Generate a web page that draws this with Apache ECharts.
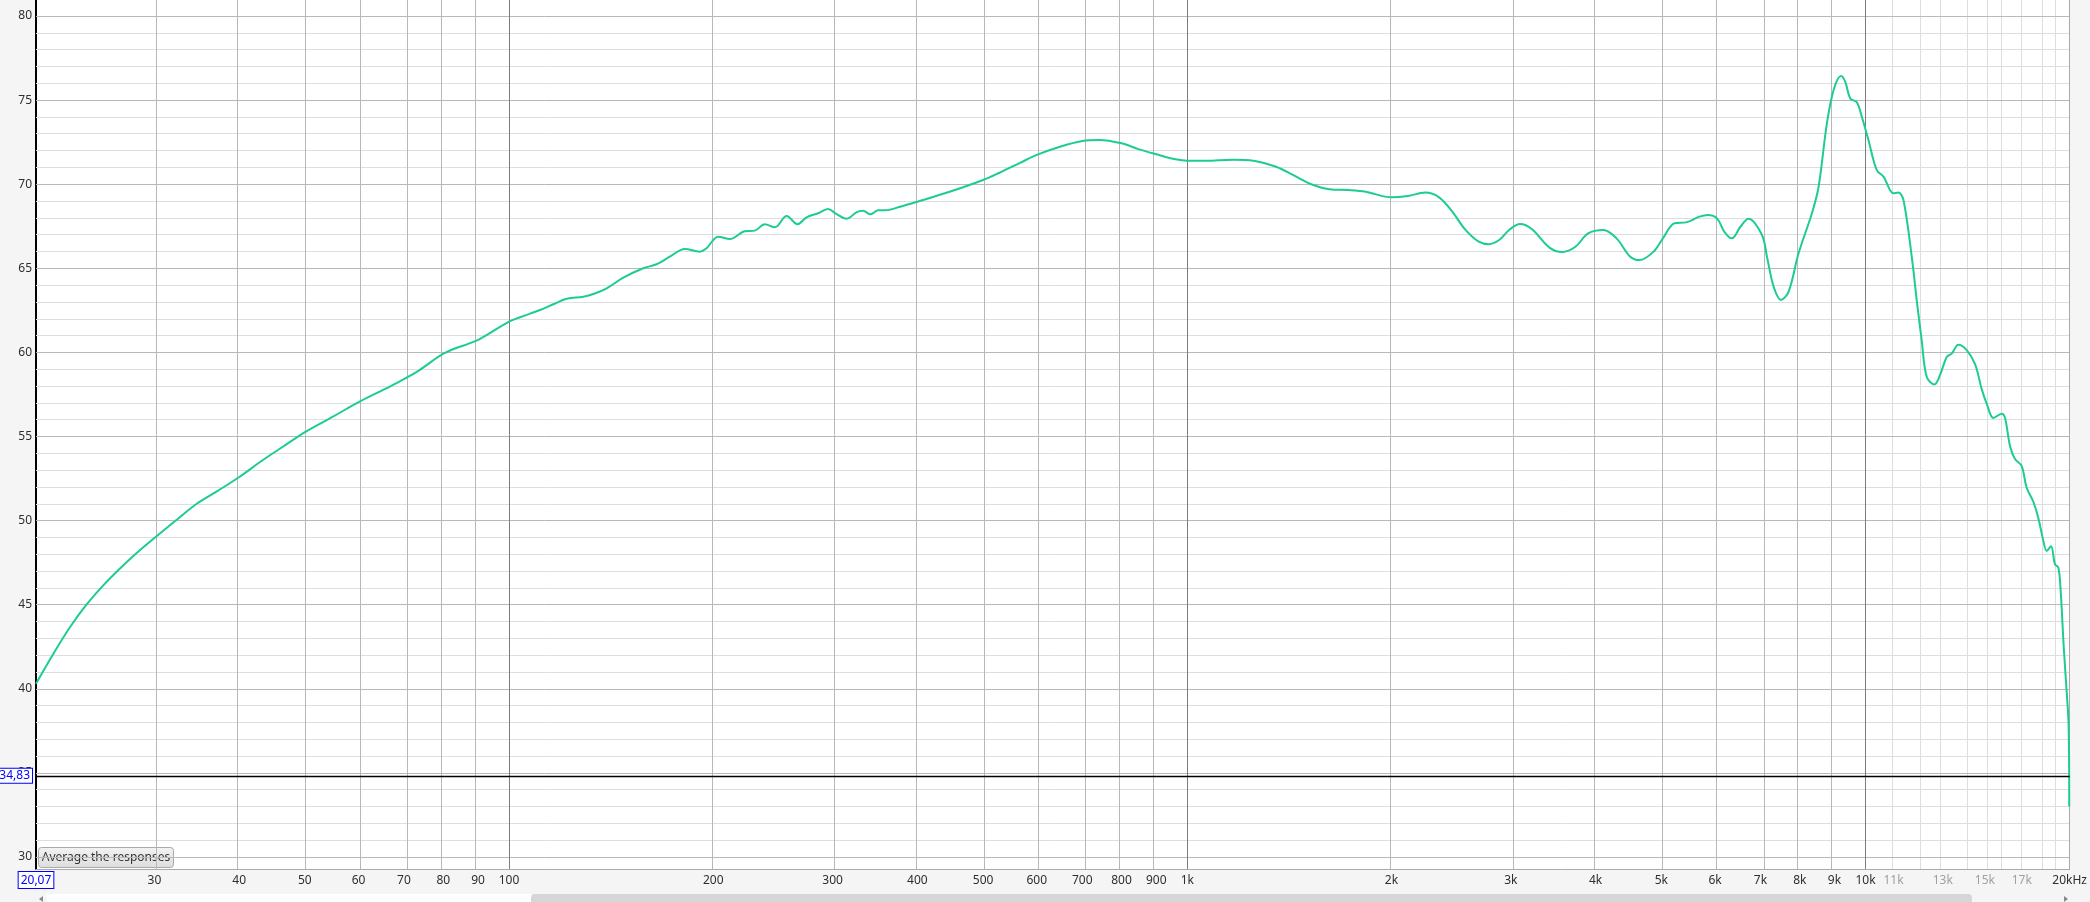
<!DOCTYPE html>
<html><head><meta charset="utf-8">
<script src="https://cdn.jsdelivr.net/npm/echarts@6/dist/echarts.min.js"></script>
<style>html,body{margin:0;padding:0;background:#f5f5f5;}#c{width:2090px;height:902px;}</style>
</head><body><div id="c"></div><script>
// ---- data (frequency in Hz, level in dB) ----
const freqs = [20.07,21.28,22.52,23.82,25.22,26.67,28.22,30.13,32.33,34.6,37.03,40.07,43.36,46.4,50.1,55,60.2,65.9,70.1,73.8,80.3,87.4,90.4,100,103.8,111.1,116.2,121.6,128.7,133.2,139.3,147.4,157.7,165,172.6,181.6,191.1,195.5,203.4,211.6,222.5,230.3,238.3,246.6,256.6,266.3,274.6,285.5,295.3,303.8,314.9,325.2,332.6,341.2,350.3,358.4,377.1,400,446.3,500,528.6,565,600,649,700,742,800,849,900,961,1000,1065,1167,1252,1352,1431,1534,1620,1730,1833,2000,2115,2244,2351,2459,2572,2690,2783,2883,2983,3096,3223,3420,3572,3735,3900,4108,4295,4500,4643,4870,5027,5230,5440,5690,5860,6040,6190,6350,6540,6720,7036,7157,7320,7506,7703,7967,8337,8528,8772,8974,9199,9334,9495,9710,9876,10100,10390,10630,10995,11185,11376,11700,11900,12100,12310,12640,12880,13175,13400,13710,14100,14510,14840,15090,15440,15880,16060,16340,16610,16990,17280,17680,17980,18290,18500,18770,19030,19250,19400,19600,19800,19930,19970];
const spl = [40.3,42.07,43.66,45.0,46.15,47.14,48.06,49.03,50.04,50.99,51.72,52.61,53.6,54.39,55.28,56.18,57.07,57.86,58.42,58.95,59.95,60.54,60.78,61.83,62.09,62.52,62.86,63.19,63.31,63.47,63.81,64.44,65.0,65.24,65.69,66.15,65.99,66.19,66.88,66.74,67.2,67.24,67.62,67.44,68.11,67.62,68.03,68.27,68.53,68.23,67.95,68.33,68.42,68.21,68.45,68.45,68.66,68.96,69.55,70.25,70.68,71.24,71.74,72.23,72.57,72.63,72.43,72.07,71.78,71.48,71.4,71.4,71.46,71.4,71.04,70.55,69.95,69.7,69.65,69.55,69.22,69.3,69.5,69.22,68.37,67.28,66.58,66.43,66.68,67.28,67.63,67.32,66.23,65.97,66.28,67.08,67.28,66.78,65.69,65.49,65.99,66.78,67.68,67.73,68.07,68.17,67.97,67.18,66.78,67.47,67.95,66.98,65.69,63.91,63.12,63.61,65.89,68.27,69.85,73.62,75.6,76.43,76.1,75.1,74.87,74.01,72.63,70.84,70.45,69.46,69.5,69.06,65.69,63.1,60.74,58.55,58.09,58.66,59.73,59.93,60.46,60.14,59.29,57.8,56.96,56.1,56.36,56.1,54.4,53.66,53.25,51.97,51.12,50.16,48.8,48.2,48.47,47.4,47.2,45.8,42.5,39.8,37.8,33.0];

// ---- axes / ticks ----
const freqMin = 20.07, freqMax = 20000;
const dbMin = 29.287, dbMax = 80.951;
const tickFreqs  = [30,40,50,60,70,80,90,100,200,300,400,500,600,700,800,900,1000,2000,3000,4000,5000,6000,7000,8000,9000,10000,11000,13000,15000,17000,20000];
const tickLabels = ['30','40','50','60','70','80','90','100','200','300','400','500','600','700','800','900','1k','2k','3k','4k','5k','6k','7k','8k','9k','10k','11k','13k','15k','17k','20kHz'];
const greyTickLabels = ['11k','13k','15k','17k'];
const dbTicks = [30,35,40,45,50,55,60,65,70,75,80];
const gridFreqsMajor = [30,40,50,60,70,80,90,200,300,400,500,600,700,800,900,2000,3000,4000,5000,6000,7000,8000,9000];
const gridFreqsDecade = [100,1000,10000];
const gridFreqsMinor = [11000,12000,13000,14000,15000,16000,17000,18000,19000];
const dbMinorLines = [31,32,33,34,36,37,38,39,41,42,43,44,46,47,48,49,51,52,53,54,56,57,58,59,61,62,63,64,66,67,68,69,71,72,73,74,76,77,78,79];
const cursorFreq = 20.07, cursorDb = 34.83;
const buttonText = 'Average the responses';

const L = Math.log10;
const fmt = v => v.toFixed(2).replace('.', ',');

const gridLines = [].concat(
  dbMinorLines.map(v => ({yAxis: v, lineStyle: {color: '#dedede'}})),
  gridFreqsMinor.map(f => ({xAxis: L(f), lineStyle: {color: '#dedede'}})),
  dbTicks.map(v => ({yAxis: v, lineStyle: {color: '#b8b8b8'}})),
  gridFreqsMajor.map(f => ({xAxis: L(f), lineStyle: {color: '#b8b8b8'}})),
  gridFreqsDecade.map(f => ({xAxis: L(f), lineStyle: {color: '#7c7c7c'}})),
  [{xAxis: L(freqMax), lineStyle: {color: '#aaaaaa'}}]
);

const boxStyle = {
  color: '#0000ff', fontSize: 12, fontFamily: 'Noto Sans',
  borderColor: '#0000ff', borderWidth: 1, backgroundColor: '#ffffff',
  padding: [1, 2, 0, 2], lineHeight: 13
};

const chart = echarts.init(document.getElementById('c'));
chart.setOption({
  animation: false,
  backgroundColor: '#f5f5f5',
  grid: {left: 36, right: 19, top: 0, bottom: 33, show: true, backgroundColor: '#ffffff', borderWidth: 0},
  xAxis: {
    type: 'value', min: L(freqMin), max: L(freqMax),
    splitLine: {show: false}, axisTick: {show: false},
    axisLine: {show: true, lineStyle: {color: '#aaaaaa', width: 1}},
    axisLabel: {
      customValues: tickFreqs.map(L), margin: 6, fontSize: 12, fontFamily: 'Noto Sans', color: '#333',
      formatter: (v) => {
        let best = 0, bd = 1e9;
        tickFreqs.forEach((f, i) => { const d = Math.abs(L(f) - v); if (d < bd) { bd = d; best = i; } });
        const t = tickLabels[best];
        return greyTickLabels.indexOf(t) >= 0 ? '{g|' + t + '}' : '{n|' + t + '}';
      },
      rich: {g: {color: '#a0a0a0', fontSize: 12, fontFamily: 'Noto Sans'}, n: {color: '#2e2e2e', fontSize: 12, fontFamily: 'Noto Sans'}}
    }
  },
  yAxis: {
    type: 'value', min: dbMin, max: dbMax,
    splitLine: {show: false}, axisTick: {show: false},
    axisLine: {show: true, lineStyle: {color: '#000000', width: 2}},
    axisLabel: {customValues: dbTicks, margin: 4, fontSize: 12, fontFamily: 'Noto Sans', color: '#2e2e2e',
      formatter: v => String(Math.round(v))}
  },
  series: [
    {
      name: 'grid', type: 'line', data: [], z: 1, silent: true,
      markLine: {z: 1, silent: true, symbol: ['none', 'none'], animation: false,
        label: {show: false}, emphasis: {disabled: true},
        lineStyle: {type: 'solid', width: 1}, data: gridLines}
    },
    {
      name: 'response', type: 'line', z: 3, showSymbol: false, symbol: 'none',
      smooth: 0.35, clip: true,
      lineStyle: {color: '#1dcc93', width: 2},
      data: freqs.map((f, i) => [L(f), spl[i]])
    },
    {
      name: 'cursor', type: 'line', data: [], z: 4, silent: true,
      markLine: {z: 4, silent: true, symbol: ['none', 'none'], animation: false, emphasis: {disabled: true},
        lineStyle: {type: 'solid'},
        data: [
          {yAxis: cursorDb, lineStyle: {color: '#000000', width: 1.3},
           label: Object.assign({show: true, position: 'start', distance: 4, formatter: fmt(cursorDb)}, boxStyle)}
        ]}
    }
  ],
  graphic: [
    {id: 'btn', type: 'group', left: 38, top: 847, z: 100, children: [
      {type: 'rect', shape: {x: 0, y: 0, width: 135, height: 20, r: 3},
        style: {fill: new echarts.graphic.LinearGradient(0, 0, 0, 1, [{offset: 0, color: '#f3f3f3'}, {offset: 1, color: '#dddddd'}]), stroke: '#a9a9a9', lineWidth: 1}},
      {type: 'text', style: {text: buttonText, x: 67.5, y: 10.5, align: 'center', verticalAlign: 'middle', fontSize: 12, fontFamily: 'Noto Sans', fill: '#333333'}}
    ]},
    {id: 'track', type: 'rect', left: 47, top: 894, z: 100, shape: {width: 484, height: 8}, style: {fill: '#ffffff'}},
    {id: 'thumb', type: 'rect', left: 531, top: 894, z: 100, shape: {width: 1441, height: 10, r: 4}, style: {fill: '#d6d6d6'}},
    {id: 'arrL', type: 'polygon', z: 100, shape: {points: [[43, 896], [43, 902], [39, 899]]}, style: {fill: '#888888'}},
    {id: 'arrR', type: 'polygon', z: 100, shape: {points: [[2064, 896], [2064, 902], [2068, 899]]}, style: {fill: '#888888'}}
  ]
});

// cursor frequency readout box, placed through the axis scale
const p = chart.convertToPixel({gridIndex: 0}, [L(cursorFreq), dbMin]);
chart.setOption({graphic: [{
  id: 'cursorX', type: 'text', z: 100, x: p[0], y: p[1] + 3,
  style: {text: fmt(cursorFreq), align: 'center', verticalAlign: 'top',
    fill: '#0000ff', fontSize: 12, fontFamily: 'Noto Sans', lineHeight: 13,
    backgroundColor: '#ffffff', borderColor: '#0000ff', borderWidth: 1, padding: [2, 2, 1, 2]}
}]});
</script></body></html>
